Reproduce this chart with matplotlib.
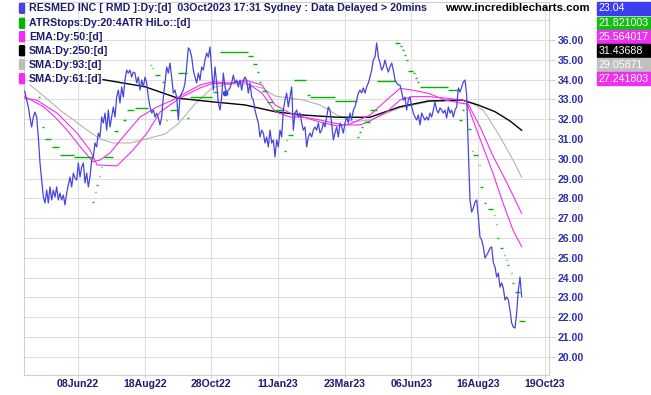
import numpy as np
import matplotlib
matplotlib.use('Agg')
import matplotlib.pyplot as plt
from matplotlib.patches import FancyBboxPatch, Rectangle

plt.rcParams['font.family'] = ['Liberation Sans', 'DejaVu Sans']

# daily closes, one value per bar (bar 0 = early Apr 2022, last bar = 03Oct2023)
price = [33.58, 33.47, 33.37, 32.97, 32.62, 32.06, 31.61, 32.11, 32.36, 32.11,
         31.10, 29.79, 28.93, 28.07, 27.77, 28.42, 27.77, 28.58, 27.92, 28.42,
         28.07, 28.58, 27.92, 28.27, 27.92, 28.17, 27.67, 28.27, 28.68, 29.08,
         28.58, 29.28, 29.03, 28.93, 29.79, 29.08, 29.59, 29.79, 28.78, 29.28,
         28.58, 29.08, 29.94, 30.09, 30.80, 30.60, 31.30, 31.10, 32.11, 31.81,
         32.31, 31.45, 32.46, 31.61, 32.11, 32.62, 32.11, 33.12, 33.47, 32.82,
         33.63, 33.12, 33.98, 34.48, 34.33, 34.48, 34.13, 34.38, 34.33, 33.83,
         34.13, 33.47, 33.98, 33.63, 34.13, 33.83, 33.12, 32.62, 32.31, 32.46,
         32.11, 32.31, 32.06, 31.71, 32.11, 33.12, 33.83, 34.64, 34.33, 34.84,
         34.13, 33.32, 33.47, 33.12, 31.96, 33.12, 33.32, 33.47, 33.83, 34.64,
         35.60, 35.49, 35.14, 34.48, 34.13, 33.83, 34.33, 33.98, 34.64, 34.48,
         34.99, 35.34, 35.14, 35.65, 34.48, 33.47, 34.64, 33.83, 32.82, 32.46,
         33.12, 34.33, 33.63, 33.32, 33.47, 33.58, 33.83, 34.23, 33.83, 33.98,
         33.63, 33.98, 33.47, 33.98, 34.13, 33.98, 33.32, 33.83, 33.12, 32.97,
         32.46, 32.11, 31.81, 31.10, 31.45, 31.30, 30.80, 31.10, 30.60, 31.45,
         30.80, 30.95, 30.09, 30.95, 30.60, 31.45, 31.10, 32.46, 32.97, 33.32,
         32.62, 33.12, 33.63, 31.45, 32.31, 32.46, 32.11, 32.31, 31.81, 31.45,
         31.61, 30.60, 31.10, 31.30, 31.10, 31.45, 31.61, 31.45, 31.81, 31.30,
         31.45, 31.81, 31.61, 32.11, 32.62, 32.46, 31.81, 30.95, 31.30, 31.61,
         31.10, 31.81, 31.61, 31.30, 31.81, 32.11, 31.81, 32.31, 31.96, 32.46,
         32.62, 32.97, 33.32, 33.47, 33.32, 33.58, 33.32, 33.63, 33.83, 34.13,
         34.48, 34.99, 35.14, 35.85, 35.14, 34.84, 34.48, 34.64, 34.99, 34.64,
         34.38, 34.64, 34.84, 34.48, 33.98, 33.83, 33.73, 33.73, 33.37, 32.97,
         33.12, 32.46, 32.97, 33.12, 32.62, 32.31, 32.11, 31.96, 32.21, 31.71,
         32.31, 32.11, 31.96, 32.11, 31.96, 32.31, 32.11, 32.46, 32.87, 32.46,
         32.31, 32.57, 32.46, 32.31, 32.46, 32.06, 32.62, 32.31, 32.46, 32.11,
         32.46, 32.62, 33.58, 33.37, 33.63, 33.88, 33.98, 33.22, 30.44, 27.92,
         27.31, 27.51, 27.82, 27.92, 27.06, 26.05, 25.90, 25.55, 24.99, 25.14,
         25.29, 25.49, 25.55, 24.74, 24.54, 24.03, 24.23, 23.52, 23.73, 23.47,
         22.87, 23.02, 22.87, 22.36, 21.71, 21.50, 21.45, 22.21, 23.37, 24.03,
         23.04]

sma250_bar = [48.8, 74, 93.8, 114.2, 134, 152, 168.8, 189.2, 209, 227, 244, 264.2, 273.8, 284, 293, 300]
sma250 = [34.00, 33.64, 33.06, 32.88, 32.72, 32.38, 32.21, 32.10, 32.10, 32.63, 32.92, 32.97, 32.72, 32.38, 31.91, 31.44]

sma93_bar = [5, 14, 23, 32, 39.2, 47, 54.8, 65, 77, 86, 93.8, 104, 114.2, 124, 134, 144.2, 152,
             168.8, 179, 189.2, 198.8, 209, 219, 227, 244, 264.2, 270.2, 276.7, 279.7, 287, 294.8, 300]
sma93 = [33.73, 33.12, 32.46, 31.91, 31.45, 31.00, 30.80, 30.80, 31.05, 31.25, 31.76, 32.77, 33.58,
         33.78, 33.78, 33.58, 33.17, 32.97, 32.72, 32.21, 31.87, 31.96, 32.31, 32.57, 32.88, 32.97,
         32.82, 32.46, 32.11, 31.12, 29.94, 29.06]

ema50_bar = [0, 12.8, 20, 27.2, 36.8, 42.8, 47, 53, 60.8, 71, 81.2, 90.8, 99.2, 107, 114.8, 124, 134,
             144.2, 152, 161, 168.8, 179, 189.2, 197, 209, 219, 227, 234.2, 244, 254, 264.2, 267.2,
             270.8, 276.8, 282.8, 288.8, 294.8, 300]
ema50 = [33.22, 32.65, 32.11, 31.45, 30.44, 29.85, 29.94, 30.29, 31.10, 32.11, 32.62, 32.97, 33.37,
         33.73, 33.89, 33.83, 33.89, 33.32, 32.38, 32.11, 32.11, 31.86, 31.66, 31.76, 32.21, 32.97,
         33.56, 33.47, 33.31, 32.97, 32.80, 32.77, 31.96, 30.61, 29.27, 27.77, 26.40, 25.56]

sma61_bar = [0, 9, 21.2, 33.2, 41, 45.2, 57.2, 66.8, 75.2, 83, 95, 107, 114.8, 125, 134, 144.2, 152,
             161, 168.8, 179, 192.8, 203, 209, 219, 227, 234.2, 244, 254, 264.2, 267.2, 275, 283,
             291.2, 300]
sma61 = [33.07, 32.97, 32.31, 31.30, 30.44, 29.69, 29.64, 30.44, 31.30, 32.36, 33.07, 33.58, 33.81,
         33.78, 33.98, 33.73, 32.72, 32.31, 32.11, 31.96, 31.71, 31.71, 31.91, 32.36, 32.97, 33.14,
         33.14, 33.07, 32.97, 32.88, 31.62, 30.11, 28.78, 27.24]

# ATR HiLo stop: flat runs (first bar, last bar, level)
stop_from = [9.5, 12.2, 14, 18.2, 23, 31.4, 42.5, 43.7, 44.9, 46.4, 47.6, 49.4, 55.4, 60.8, 63.2, 68,
             77, 78.2, 80, 84, 86.6, 89, 93.8, 99.5, 101, 114.8, 118.8, 135.8, 138.8, 141.5, 142.7,
             144.2, 147.2, 150.8, 157.7, 158.6, 159.8, 163.4, 171, 173, 188, 201.5, 202.7, 203.9,
             205.4, 209, 213.2, 224, 227.3, 228.5, 229.7, 230.9, 231.8, 235.1, 236.3, 237.5, 239,
             255.8, 262.4, 264.5, 267.8, 270, 271, 274.4, 275.3, 277.4, 279.8, 283.4, 284.6, 285.5,
             287, 289.4, 290.6, 291.5, 293.6, 294.5, 296, 298.4]
stop_to = [10.7, 13.4, 17.6, 22.4, 31.4, 42.8, 43.4, 44.6, 45.8, 47.3, 48.5, 54.8, 57.8, 62.6, 67.4,
           75.8, 77.9, 79.1, 83, 86, 87.5, 93.2, 99.2, 100.4, 114.2, 117.8, 135.8, 138.8, 141.2,
           142.4, 143.6, 147.2, 150.8, 156.8, 158.3, 159.5, 162.8, 170.6, 173, 188, 201.2, 202.4,
           203.6, 204.8, 209, 213.2, 224, 227, 228.2, 229.4, 230.6, 231.8, 235, 236, 237.2, 238.4,
           255.8, 261.8, 264.2, 265.4, 269.6, 271, 273.8, 275.3, 276.8, 278.6, 282.8, 284.3, 285.5,
           286.4, 288.8, 290.3, 291.5, 292.4, 294.5, 295.4, 299, 302]
stop_level = [33.12, 31.62, 31.00, 30.61, 30.19, 30.09, 27.82, 28.32, 28.68, 29.13, 29.59, 30.09,
              31.40, 31.96, 32.46, 32.59, 34.74, 34.57, 34.23, 33.89, 31.96, 32.46, 34.35, 32.04,
              33.14, 33.39, 35.38, 35.19, 34.77, 34.37, 33.88, 33.42, 32.89, 32.46, 30.37, 30.95,
              31.20, 33.98, 33.22, 33.14, 32.92, 31.08, 31.37, 31.61, 31.87, 32.46, 33.93, 35.86,
              35.70, 35.49, 35.24, 34.99, 34.46, 34.33, 34.08, 33.88, 33.64, 33.50, 31.98, 32.46,
              31.53, 30.37, 30.19, 29.69, 28.59, 27.75, 27.45, 27.16, 26.71, 25.98, 25.48, 25.14,
              24.89, 24.64, 24.22, 23.74, 23.26, 21.82]

event_bar = [122]
event_price = [33.32]

tick_bars = [33.8, 73.8, 113.8, 153.8, 193.8, 233.8, 273.8, 313.8]
tick_dates = ['08Jun22', '18Aug22', '28Oct22', '11Jan23', '23Mar23', '06Jun23', '16Aug23', '19Oct23']

legend_names = ['RESMED INC [ RMD ]:Dy:[d]  03Oct2023 17:31 Sydney : Data Delayed > 20mins',
                'ATRStops:Dy:20:4ATR HiLo::[d]', 'EMA:Dy:50:[d]', 'SMA:Dy:250:[d]',
                'SMA:Dy:93:[d]', 'SMA:Dy:61:[d]']
last_values = ['23.04', '21.821003', '25.564017', '31.43688', '29.05871', '27.241803']

blue = '#4646dc'
green = '#00b400'
magenta = '#f030f0'
grey = '#b4b4b4'
colors = [blue, green, magenta, 'black', '#bdbdbd', magenta]
box_colors = ['#3c3cf0', '#10c010', '#f030f0', 'black', '#c0c0c0', '#f030f0']

W, H = 651, 395
fig = plt.figure(figsize=(W / 100, H / 100), dpi=100)
ax = fig.add_axes([24 / W, (H - 375) / H, (549 - 24) / W, (375 - 2) / H])

ax.set_xlim(1.4, 316.4)
ax.set_ylim(19.08, 37.92)

ax.plot(sma93_bar, sma93, color=grey, lw=0.8, zorder=2)
ax.plot(sma250_bar, sma250, color='black', lw=1.0, zorder=3)
ax.plot(sma61_bar, sma61, color=magenta, lw=0.8, zorder=3)
ax.plot(ema50_bar, ema50, color=magenta, lw=0.8, zorder=3)
ax.hlines(stop_level, stop_from, stop_to, colors=green, lw=1.0, zorder=4)
ax.plot(np.arange(len(price)), price, color=blue, lw=0.9, zorder=5)
ax.scatter(event_bar, event_price, s=10, color=blue, zorder=6)

ax.set_xticks(tick_bars)
ax.set_xticklabels(tick_dates, fontsize=7.6, fontweight='bold', color='#1c1c78')
ax.set_yticks(np.arange(20, 37))
ax.set_yticklabels(['%.2f' % v for v in np.arange(20, 37)], fontsize=7.6,
                   fontweight='bold', color='#2e2eb0')
ax.yaxis.tick_right()
ax.tick_params(axis='y', length=4, width=0.6, color='#c8c8c8', pad=2)
ax.tick_params(axis='x', length=2, width=0.6, color='#c8c8c8', pad=1)
ax.set_yticks(np.arange(20, 38), minor=True)
ax.grid(True, which='major', color='#dedede', lw=0.8)
ax.grid(True, which='minor', axis='y', color='#dedede', lw=0.8)
ax.tick_params(which='minor', length=0)
for s in ax.spines.values():
    s.set_color('#d0d0d0')
    s.set_linewidth(0.8)

rows = [8.3, 23.3, 36.7, 50.7, 64.5, 78.7]
for i, name in enumerate(legend_names):
    yy = 1 - rows[i] / H
    fig.patches.append(FancyBboxPatch((19.5 / W, yy - 5 / H), 5 / W, 10 / H,
                                      boxstyle='round,pad=0,rounding_size=0.002',
                                      transform=fig.transFigure, color=colors[i]))
    fig.text(29 / W, yy, name, fontsize=7.7, fontweight='bold', color='#1c1c70',
             va='center', ha='left')
    fig.patches.append(Rectangle((597 / W, yy - 6.5 / H), 54 / W, 13 / H,
                                 transform=fig.transFigure, color=box_colors[i]))
    fig.text(598.5 / W, yy, last_values[i], fontsize=7.7, color='white',
             va='center', ha='left')

fig.text(517 / W, 1 - 8.3 / H, 'www.incrediblecharts.com', fontsize=8.2, fontweight='bold',
         color='black', va='center', ha='center')

fig.savefig('out.png', dpi=100, facecolor='white')
